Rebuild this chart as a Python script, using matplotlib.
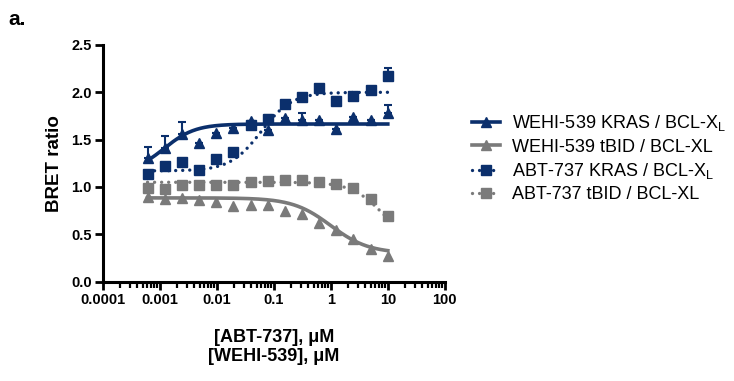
import numpy as np
import matplotlib
matplotlib.use("Agg")
import matplotlib.pyplot as plt
from matplotlib.ticker import FixedLocator, LogLocator, NullFormatter
from matplotlib.lines import Line2D

plt.rcParams['font.family'] = ['Liberation Sans', 'DejaVu Sans']
plt.rcParams['mathtext.fontset'] = 'custom'
plt.rcParams['mathtext.rm'] = 'Liberation Sans'

navy = '#0b2f6c'
grey = '#7a7a7a'

# 2-fold dilution series, uM
conc = 10 / 2.0 ** np.arange(14, -1, -1)

wehi_kras = [1.31, 1.41, 1.56, 1.46, 1.57, 1.62, 1.70, 1.60, 1.73, 1.71,
             1.71, 1.61, 1.74, 1.71, 1.78]
wehi_kras_err = [0.11, 0.13, 0.13, 0, 0, 0, 0, 0, 0, 0.07, 0, 0, 0, 0, 0.09]
wehi_tbid = [0.89, 0.87, 0.88, 0.86, 0.845, 0.80, 0.81, 0.81, 0.75, 0.72,
             0.62, 0.55, 0.45, 0.35, 0.27]
abt_kras = [1.14, 1.22, 1.26, 1.18, 1.30, 1.37, 1.65, 1.72, 1.88, 1.95,
            2.05, 1.91, 1.96, 2.02, 2.17]
abt_kras_err = [0, 0.03, 0, 0, 0, 0, 0.04, 0.04, 0, 0, 0.03, 0.04, 0, 0.03, 0.09]
abt_tbid = [0.99, 0.98, 1.02, 1.02, 1.02, 1.02, 1.05, 1.06, 1.07, 1.07,
            1.05, 1.03, 0.99, 0.87, 0.69]

# fitted curve parameters: bottom, top, ec50, hill (negative = falling)
fit_wehi_kras = (1.15, 1.665, 0.0012, 1.6)
fit_wehi_tbid = (0.30, 0.885, 1.0, -1.3)
fit_abt_kras = (1.17, 2.0, 0.06, 1.6)
fit_abt_tbid = (0.40, 1.05, 8.0, -1.6)


def curve(x, p):
    bottom, top, ec50, hill = p
    return bottom + (top - bottom) / (1 + (ec50 / x) ** hill)


fig = plt.figure(figsize=(7.34, 3.81), dpi=100)
ax = fig.add_axes([0.14, 0.2606, 0.466, 0.6215])

xs = np.logspace(np.log10(conc[0]), np.log10(conc[-1]), 300)
dots = (0, (0.01, 2.1))

ax.plot(xs, curve(xs, fit_abt_tbid), color=grey, lw=2.4, ls=dots, dash_capstyle='round')
ax.plot(xs, curve(xs, fit_abt_kras), color=navy, lw=2.4, ls=dots, dash_capstyle='round')
ax.plot(xs, curve(xs, fit_wehi_tbid), color=grey, lw=2.6)
ax.plot(xs, curve(xs, fit_wehi_kras), color=navy, lw=2.6)

ax.errorbar(conc, abt_tbid, color=grey, marker='s', ms=7.5, ls='none')
ax.errorbar(conc, wehi_tbid, color=grey, marker='^', ms=7.5, ls='none')
ax.errorbar(conc, abt_kras, yerr=[np.zeros(15), abt_kras_err], color=navy,
            marker='s', ms=7.5, ls='none', capsize=3, elinewidth=1.5, capthick=1.5)
ax.errorbar(conc, wehi_kras, yerr=[np.zeros(15), wehi_kras_err], color=navy,
            marker='^', ms=7.5, ls='none', capsize=3, elinewidth=1.5, capthick=1.5)

ax.set_xscale('log')
ax.set_xlim(1e-4, 100)
ax.set_ylim(0, 2.5)
ax.xaxis.set_major_locator(FixedLocator([1e-4, 1e-3, 1e-2, 1e-1, 1, 10, 100]))
ax.xaxis.set_minor_locator(LogLocator(base=10, subs=np.arange(2, 10)))
ax.xaxis.set_minor_formatter(NullFormatter())
ax.set_xticklabels(['0.0001', '0.001', '0.01', '0.1', '1', '10', '100'])
ax.set_yticks([0, 0.5, 1.0, 1.5, 2.0, 2.5])
ax.set_yticklabels(['0.0', '0.5', '1.0', '1.5', '2.0', '2.5'])

for s in ['top', 'right']:
    ax.spines[s].set_visible(False)
for s in ['left', 'bottom']:
    ax.spines[s].set_linewidth(2.2)
ax.tick_params(which='major', length=6, width=2, labelsize=10.5, pad=2)
ax.tick_params(which='minor', length=4.5, width=1.6)
for lab in ax.get_xticklabels() + ax.get_yticklabels():
    lab.set_fontweight('bold')
for art in ax.lines:
    art.set_clip_on(False)

ax.set_ylabel('BRET ratio', fontsize=13.5, fontweight='bold', labelpad=6)
ax.set_xlabel('[ABT-737], \u03bcM\n[WEHI-539], \u03bcM', fontsize=13,
              fontweight='bold', labelpad=16, linespacing=1.15)

fig.text(0.011, 0.935, 'a.', fontsize=15, fontweight='bold')

handles = [
    Line2D([], [], color=navy, lw=2.6, marker='^', ms=7.5),
    Line2D([], [], color=grey, lw=2.6, marker='^', ms=7.5),
    Line2D([], [], color=navy, lw=2.4, ls=dots, dash_capstyle='round', marker='s', ms=7.5),
    Line2D([], [], color=grey, lw=2.4, ls=dots, dash_capstyle='round', marker='s', ms=7.5),
]
labels = ['WEHI-539 KRAS / BCL-X$_\\mathregular{L}$', 'WEHI-539 tBID / BCL-XL',
          'ABT-737 KRAS / BCL-X$_\\mathregular{L}$', 'ABT-737 tBID / BCL-XL']
fig.legend(handles, labels, loc='upper left', bbox_to_anchor=(0.633, 0.722),
           frameon=False, fontsize=13, handlelength=1.55, handletextpad=0.65,
           labelspacing=0.3, borderaxespad=0)

fig.savefig('out.png', dpi=100)
